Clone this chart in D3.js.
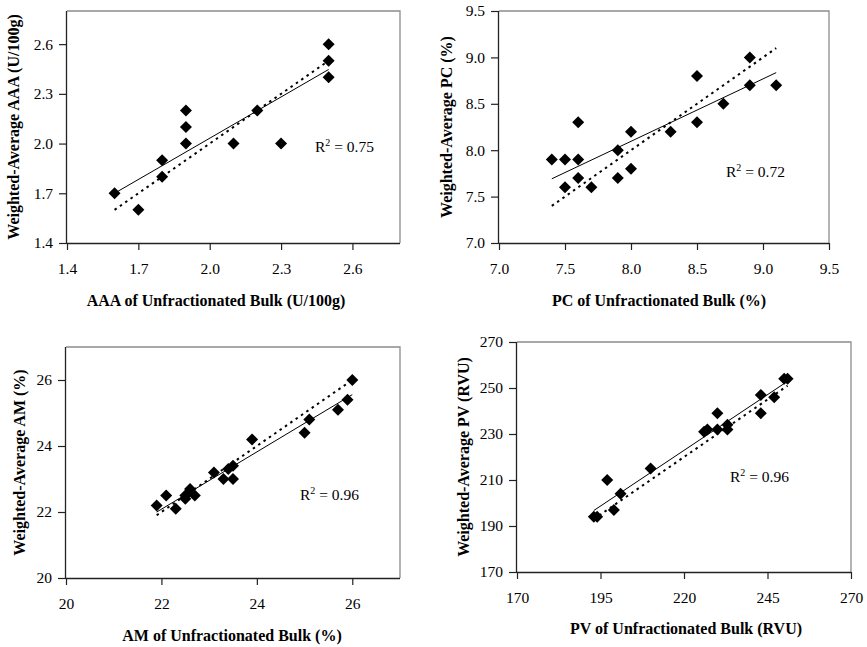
<!DOCTYPE html>
<html>
<head>
<meta charset="utf-8">
<script src="https://cdn.jsdelivr.net/npm/d3@7"></script>
<style>
  html, body { margin: 0; padding: 0; background: #fff; }
  svg { display: block; }
  text { font-family: "Liberation Serif", "Times New Roman", serif; fill: #000; }
</style>
</head>
<body>
<svg id="chart" width="867" height="647"></svg>
<script>
// ---- Data ----
const aaaBulk     = [1.6, 1.7, 1.8, 1.8, 1.9, 1.9, 1.9, 2.1, 2.2, 2.3, 2.5, 2.5, 2.5];
const aaaWeighted = [1.7, 1.6, 1.9, 1.8, 2.2, 2.1, 2.0, 2.0, 2.2, 2.0, 2.6, 2.5, 2.4];

const pcBulk     = [7.4, 7.5, 7.5, 7.6, 7.6, 7.6, 7.7, 7.9, 7.9, 8.0, 8.0, 8.3, 8.5, 8.5, 8.7, 8.9, 8.9, 9.1];
const pcWeighted = [7.9, 7.9, 7.6, 8.3, 7.9, 7.7, 7.6, 8.0, 7.7, 8.2, 7.8, 8.2, 8.8, 8.3, 8.5, 9.0, 8.7, 8.7];

const amBulk     = [21.9, 22.1, 22.3, 22.5, 22.5, 22.6, 22.7, 23.1, 23.3, 23.4, 23.5, 23.5, 23.9, 25.0, 25.1, 25.7, 25.9, 26.0];
const amWeighted = [22.2, 22.5, 22.1, 22.5, 22.4, 22.7, 22.5, 23.2, 23.0, 23.3, 23.4, 23.0, 24.2, 24.4, 24.8, 25.1, 25.4, 26.0];

const pvBulk     = [193, 194, 197, 199, 201, 210, 226, 227, 230, 230, 233, 233, 243, 243, 247, 250, 251];
const pvWeighted = [194, 194, 210, 197, 204, 215, 231, 232, 239, 232, 234, 232, 247, 239, 246, 254, 254];

const aaaTicks = [1.4, 1.7, 2.0, 2.3, 2.6];
const pcTicks  = [7.0, 7.5, 8.0, 8.5, 9.0, 9.5];
const amTicks  = [20, 22, 24, 26];
const pvTicks  = [170, 195, 220, 245, 270];
const pvYTicks = [170, 190, 210, 230, 250, 270];

const aaaDomain = [1.4, 2.8];
const pcDomain  = [7.0, 9.5];
const amDomain  = [20, 27];
const pvDomain  = [170, 270];

const r2Labels = ["0.75", "0.72", "0.96", "0.96"];
const xTitles = ["AAA of Unfractionated Bulk (U/100g)", "PC of Unfractionated Bulk (%)",
                 "AM of Unfractionated Bulk (%)", "PV of Unfractionated Bulk (RVU)"];
const yTitles = ["Weighted-Average AAA (U/100g)", "Weighted-Average PC (%)",
                 "Weighted-Average AM (%)", "Weighted-Average PV (RVU)"];

// ---- Layout ----
const panels = [
  { x: aaaBulk, y: aaaWeighted, dom: aaaDomain, xt: aaaTicks, yt: aaaTicks, fmt: d3.format(".1f"),
    box: { l: 67, r: 400, t: 11, b: 243 }, r2: { x: 315, y: 152 }, yTitleX: 14, xTitleX: 216, xTitleY: 306 },
  { x: pcBulk, y: pcWeighted, dom: pcDomain, xt: pcTicks, yt: pcTicks, fmt: d3.format(".1f"),
    box: { l: 499, r: 829, t: 11, b: 243 }, r2: { x: 726, y: 177 }, yTitleX: 447, xTitleX: 659, xTitleY: 306 },
  { x: amBulk, y: amWeighted, dom: amDomain, xt: amTicks, yt: amTicks, fmt: d3.format("d"),
    box: { l: 66, r: 400, t: 347, b: 578 }, r2: { x: 300, y: 500 }, yTitleX: 20, xTitleX: 232, xTitleY: 641 },
  { x: pvBulk, y: pvWeighted, dom: pvDomain, xt: pvTicks, yt: pvYTicks, fmt: d3.format("d"),
    box: { l: 517, r: 851, t: 342, b: 572 }, r2: { x: 730, y: 482 }, yTitleX: 464, xTitleX: 686, xTitleY: 634 }
];

const svg = d3.select("#chart");
svg.append("rect").attr("width", 867).attr("height", 647).attr("fill", "#fff");

function linreg(xs, ys) {
  const mx = d3.mean(xs), my = d3.mean(ys);
  let sxy = 0, sxx = 0;
  xs.forEach((x, i) => { sxy += (x - mx) * (ys[i] - my); sxx += (x - mx) * (x - mx); });
  const m = sxy / sxx;
  return { m, b: my - m * mx };
}

const diamond = "M0,-6L6,0L0,6L-6,0Z";

panels.forEach((p, i) => {
  const g = svg.append("g");
  const xs = d3.scaleLinear().domain(p.dom).range([p.box.l, p.box.r]);
  const ys = d3.scaleLinear().domain(p.dom).range([p.box.b, p.box.t]);

  // gray frame (top & right)
  g.append("path")
    .attr("d", `M${p.box.l},${p.box.t}H${p.box.r}V${p.box.b}`)
    .attr("fill", "none").attr("stroke", "#8c8c8c").attr("stroke-width", 1.3);

  // axes
  const xAxis = d3.axisBottom(xs).tickValues(p.xt).tickFormat(p.fmt).tickSize(7).tickPadding(13).tickSizeOuter(0);
  const yAxis = d3.axisLeft(ys).tickValues(p.yt).tickFormat(p.fmt).tickSize(8).tickPadding(6).tickSizeOuter(0);
  const gx = g.append("g").attr("transform", `translate(0,${p.box.b})`).call(xAxis);
  const gy = g.append("g").attr("transform", `translate(${p.box.l},0)`).call(yAxis);
  [gx, gy].forEach(a => {
    a.select(".domain").attr("stroke", "#222").attr("stroke-width", 1.3);
    a.selectAll(".tick line").attr("stroke", "#222").attr("stroke-width", 1.2);
    a.selectAll(".tick text").attr("font-family", "Liberation Serif").attr("font-size", 15.5).attr("fill", "#111");
  });
  gx.select(".domain").attr("d", `M${p.box.l},0.5H${p.box.r}`);
  gy.select(".domain").attr("d", `M-0.5,${p.box.b}V${p.box.t}`);

  // 1:1 dotted line over data range
  const x0 = d3.min(p.x), x1 = d3.max(p.x);
  g.append("line")
    .attr("x1", xs(x0)).attr("y1", ys(x0)).attr("x2", xs(x1)).attr("y2", ys(x1))
    .attr("stroke", "#000").attr("stroke-width", 2).attr("stroke-dasharray", "2.5,4");

  // regression line
  const fit = linreg(p.x, p.y);
  g.append("line")
    .attr("x1", xs(x0)).attr("y1", ys(fit.m * x0 + fit.b))
    .attr("x2", xs(x1)).attr("y2", ys(fit.m * x1 + fit.b))
    .attr("stroke", "#000").attr("stroke-width", 1);

  // points
  g.selectAll("path.pt").data(p.x.map((v, k) => [v, p.y[k]])).enter()
    .append("path").attr("class", "pt")
    .attr("d", diamond)
    .attr("transform", d => `translate(${xs(d[0])},${ys(d[1])})`)
    .attr("fill", "#000");

  // R² label
  const t = g.append("text").attr("x", p.r2.x).attr("y", p.r2.y).attr("font-size", 15.5);
  t.append("tspan").text("R");
  t.append("tspan").attr("font-size", 10).attr("dy", -6).text("2");
  t.append("tspan").attr("dy", 6).text(" = " + r2Labels[i]);

  // titles
  g.append("text").attr("x", p.xTitleX).attr("y", p.xTitleY)
    .attr("text-anchor", "middle").attr("font-weight", "bold").attr("font-size", 16)
    .text(xTitles[i]);
  const cy = (p.box.t + p.box.b) / 2;
  g.append("text")
    .attr("transform", `translate(${p.yTitleX + 5},${cy}) rotate(-90)`)
    .attr("text-anchor", "middle").attr("font-weight", "bold").attr("font-size", 16)
    .text(yTitles[i]);
});
</script>
</body>
</html>
